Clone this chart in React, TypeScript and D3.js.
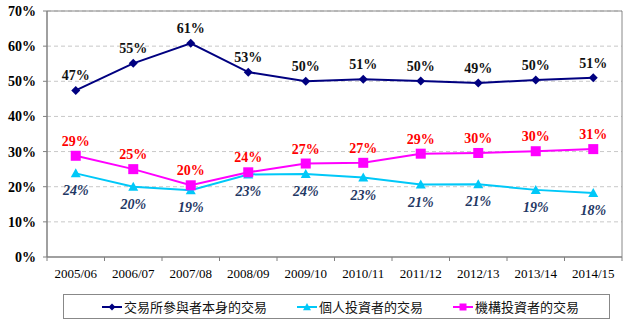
import React from "react";
import * as d3 from "d3";

const categories = ["2005/06","2006/07","2007/08","2008/09","2009/10","2010/11","2011/12","2012/13","2013/14","2014/15"];
const exchangeValues = [47.4, 55.1, 60.8, 52.6, 50.0, 50.6, 50.1, 49.5, 50.4, 51.0];
const exchangeLabels = ["47%","55%","61%","53%","50%","51%","50%","49%","50%","51%"];
const individualValues = [23.8, 20.0, 19.0, 23.5, 23.6, 22.6, 20.6, 20.7, 19.1, 18.2];
const individualLabels = ["24%","20%","19%","23%","24%","23%","21%","21%","19%","18%"];
const institutionValues = [28.8, 25.0, 20.4, 24.1, 26.6, 26.8, 29.4, 29.6, 30.1, 30.7];
const institutionLabels = ["29%","25%","20%","24%","27%","27%","29%","30%","30%","31%"];
const yTicks = [0, 10, 20, 30, 40, 50, 60, 70];
const seriesNames = ["交易所參與者本身的交易", "個人投資者的交易", "機構投資者的交易"];

const W = 630, H = 326;
const L = 47, R = 622, T = 11, B = 257;

export default function App() {
  const x = d3.scaleBand<string>().domain(categories).range([L, R]);
  const cx = (c: string) => (x(c) as number) + x.bandwidth() / 2;
  const y = d3.scaleLinear().domain([0, 70]).range([B, T]);
  const line = d3.line<number>().x((_, i) => cx(categories[i])).y(d => y(d));
  const serif = "Liberation Serif, DejaVu Serif, Times New Roman, Times, serif";
  const cjk = "Noto Sans CJK TC, Noto Sans CJK SC, sans-serif";

  const diamond = (px: number, py: number, s: number, key: any, color: string) => (
    <path key={key} d={`M${px},${py - s}L${px + s},${py}L${px},${py + s}L${px - s},${py}Z`} fill={color} />
  );
  const tri = (px: number, py: number, s: number, key: any, color: string) => (
    <path key={key} d={`M${px},${py - s}L${px + s},${py + s * 0.8}L${px - s},${py + s * 0.8}Z`} fill={color} />
  );
  const sq = (px: number, py: number, s: number, key: any, color: string) => (
    <rect key={key} x={px - s} y={py - s} width={s * 2} height={s * 2} fill={color} />
  );

  const blue = "#000080", cyan = "#00C8F8", pink = "#FF00FF";
  const st = (extra: any = {}) => ({ fontFamily: serif, ...extra });

  return (
    <svg width={W} height={H} style={{ position: "absolute", left: 0, top: 0 }}>
      <rect x={0} y={0} width={W} height={H} fill="#fff" />
      {yTicks.filter(t => t > 0).map(t => (
        <line key={t} x1={L} x2={R} y1={y(t)} y2={y(t)} stroke="#C8C8C8" strokeDasharray="4,3" strokeWidth={1} />
      ))}
      <line x1={L} x2={R} y1={T} y2={T} stroke="#888" />
      <line x1={R} x2={R} y1={T} y2={B} stroke="#888" />
      <line x1={L} x2={L} y1={T} y2={B} stroke="#808080" strokeWidth={1.5} />
      <line x1={L} x2={R} y1={B} y2={B} stroke="#808080" strokeWidth={1.5} />
      {yTicks.map(t => (
        <g key={t}>
          <line x1={L - 4} x2={L} y1={y(t)} y2={y(t)} stroke="#808080" />
          <text x={36} y={y(t) + 5} textAnchor="end" style={st({ fontWeight: "bold", fontSize: 14 })}>{t}%</text>
        </g>
      ))}
      {categories.map((c, i) => (
        <g key={c}>
          <line x1={x(c) as number} x2={x(c) as number} y1={B} y2={B + 4} stroke="#808080" />
          {i === categories.length - 1 && <line x1={R} x2={R} y1={B} y2={B + 4} stroke="#808080" />}
          <text x={cx(c)} y={278} textAnchor="middle" style={st({ fontSize: 13 })}>{c}</text>
        </g>
      ))}
      <path d={line(individualValues) || ""} fill="none" stroke={cyan} strokeWidth={2} />
      <path d={line(institutionValues) || ""} fill="none" stroke={pink} strokeWidth={2} />
      <path d={line(exchangeValues) || ""} fill="none" stroke={blue} strokeWidth={2} />
      {individualValues.map((v, i) => tri(cx(categories[i]), y(v), 5, "t" + i, cyan))}
      {institutionValues.map((v, i) => sq(cx(categories[i]), y(v), 5, "s" + i, pink))}
      {exchangeValues.map((v, i) => diamond(cx(categories[i]), y(v), 4.5, "d" + i, blue))}
      {exchangeValues.map((v, i) => (
        <text key={"el" + i} x={cx(categories[i])} y={y(v) - 10} textAnchor="middle" fill="#111" style={st({ fontWeight: "bold", fontSize: 14 })}>{exchangeLabels[i]}</text>
      ))}
      {institutionValues.map((v, i) => (
        <text key={"sl" + i} x={cx(categories[i])} y={y(v) - 10} textAnchor="middle" fill="#FF0000" style={st({ fontWeight: "bold", fontSize: 14 })}>{institutionLabels[i]}</text>
      ))}
      {individualValues.map((v, i) => (
        <text key={"il" + i} x={cx(categories[i])} y={y(v) + 22} textAnchor="middle" fill="#1F3864" style={st({ fontWeight: "bold", fontStyle: "italic", fontSize: 14 })}>{individualLabels[i]}</text>
      ))}
      <rect x={63.5} y={294.5} width={546} height={24} fill="#fff" stroke="#888" />
      {[
        { x0: 102, color: blue, m: "d" },
        { x0: 297, color: cyan, m: "t" },
        { x0: 453, color: pink, m: "s" },
      ].map((it, i) => (
        <g key={"lg" + i}>
          <line x1={it.x0} x2={it.x0 + 20} y1={307} y2={307} stroke={it.color} strokeWidth={2} />
          {it.m === "d" && diamond(it.x0 + 10, 307, 3.5, "ld", it.color)}
          {it.m === "t" && tri(it.x0 + 10, 307, 4, "lt", it.color)}
          {it.m === "s" && sq(it.x0 + 10, 307, 3.5, "ls", it.color)}
          <text x={it.x0 + 22} y={312} fill="#111" style={{ fontFamily: cjk, fontSize: 13 }}>{seriesNames[i]}</text>
        </g>
      ))}
    </svg>
  );
}
